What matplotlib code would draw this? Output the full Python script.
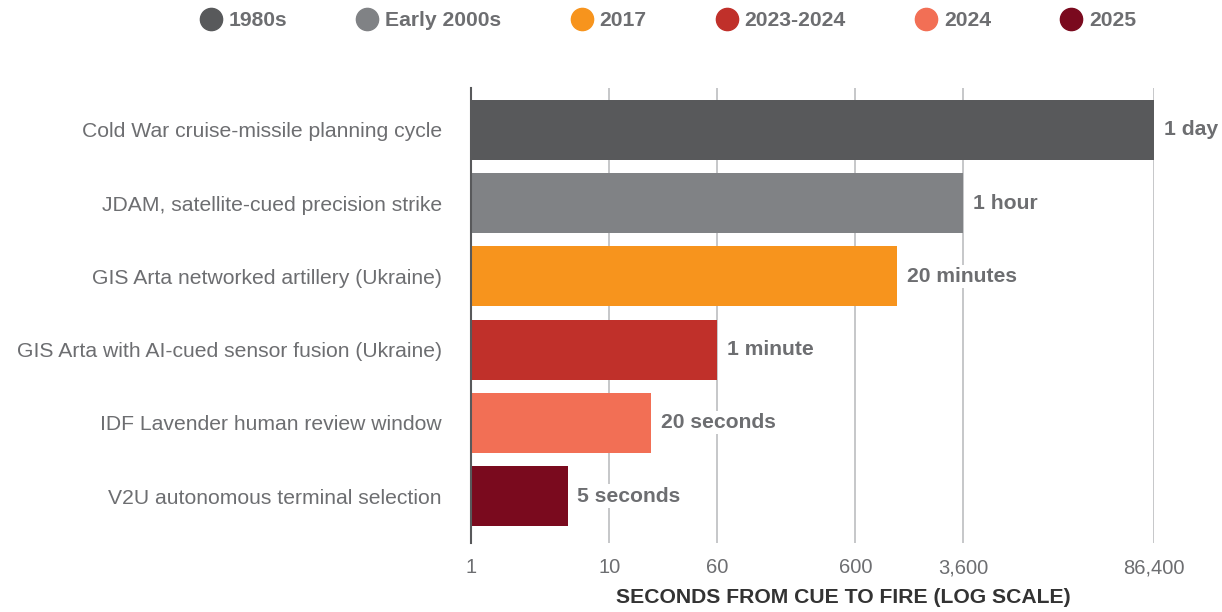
import matplotlib.pyplot as plt
import matplotlib.lines as mlines

plt.rcParams['font.family'] = ['Liberation Sans', 'DejaVu Sans']

# data
systems = ["Cold War cruise-missile planning cycle",
           "JDAM, satellite-cued precision strike",
           "GIS Arta networked artillery (Ukraine)",
           "GIS Arta with AI-cued sensor fusion (Ukraine)",
           "IDF Lavender human review window",
           "V2U autonomous terminal selection"]
seconds = [86400, 3600, 1200, 60, 20, 5]
value_labels = ["1 day", "1 hour", "20 minutes", "1 minute", "20 seconds", "5 seconds"]
eras = ["1980s", "Early 2000s", "2017", "2023-2024", "2024", "2025"]
colors = ["#58595b", "#808285", "#f7941d", "#c0302a", "#f26f55", "#7a0a1e"]
tick_vals = [1, 10, 60, 600, 3600, 86400]
tick_labels = ["1", "10", "60", "600", "3,600", "86,400"]

FS = 15.2
GRAY = "#6d6e71"

fig = plt.figure(figsize=(12.22, 6.12), dpi=100)
ax = fig.add_axes([0.3854, 0.1128, 0.559, 0.7434])

ypos = list(range(len(systems)))
# bars start at 1 (log axis origin)
ax.barh(ypos, [v - 1 for v in seconds], left=1, height=0.82, color=colors, zorder=2)

for y, v, lab in zip(ypos, seconds, value_labels):
    ax.annotate(lab, (v, y), xytext=(7, 0), textcoords="offset points",
                va="center", ha="left", fontsize=FS, fontweight="bold",
                color=GRAY, zorder=3, annotation_clip=False,
                bbox=dict(facecolor="white", edgecolor="none", pad=1.5))

ax.set_xscale("log")
ax.set_xlim(1, 86400)
ax.set_ylim(5.64, -0.57)
ax.set_xticks(tick_vals)
ax.set_xticklabels(tick_labels)
ax.minorticks_off()
ax.tick_params(axis="x", length=0, pad=11, labelsize=FS - 0.7, labelcolor=GRAY)
ax.set_yticks(ypos)
ax.set_yticklabels(systems)
ax.tick_params(axis="y", length=0, pad=21, labelsize=FS, labelcolor=GRAY)
ax.grid(axis="x", color="#bcbec0", linewidth=1.2, zorder=0)
ax.grid(axis="y", visible=False)
for s in ["top", "right", "bottom"]:
    ax.spines[s].set_visible(False)
ax.spines["left"].set_color("#58595b")
ax.spines["left"].set_linewidth(1.5)
ax.spines["left"].set_zorder(4)

ax.set_xlabel("SECONDS FROM CUE TO FIRE (LOG SCALE)", fontsize=FS,
              fontweight="bold", color="#333333")
ax.xaxis.set_label_coords(0.545, -0.098)

handles = [mlines.Line2D([], [], linestyle="none", marker="o", markersize=16,
                         markerfacecolor=c, markeredgecolor=c, label=e)
           for c, e in zip(colors, eras)]
leg = fig.legend(handles=handles, loc="upper center", bbox_to_anchor=(0.546, 1.013),
                 ncol=6, frameon=False, handletextpad=0.25, columnspacing=3.2,
                 handlelength=1.2, prop={"size": FS, "weight": "bold"})
for t in leg.get_texts():
    t.set_color(GRAY)

fig.savefig("out.png", dpi=100)
